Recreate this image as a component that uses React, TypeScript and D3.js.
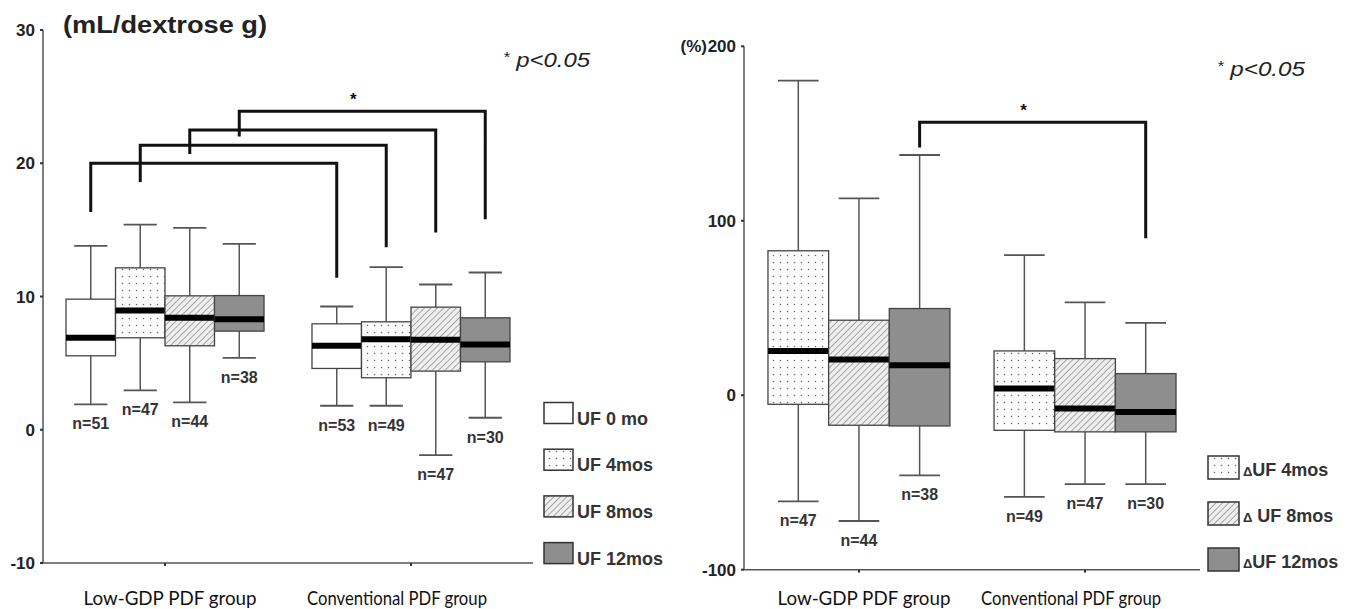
import React, { useEffect } from 'react';
import * as d3 from 'd3';

// ---------- data ----------
const groups = ['Low-GDP PDF group', 'Conventional PDF group'];
const leftSeries = ['UF 0 mo', 'UF 4mos', 'UF 8mos', 'UF 12mos'];
const rightSeries = ['ΔUF 4mos', 'Δ UF 8mos', 'ΔUF 12mos'];

// each box: [whiskerLow, q1, median, q3, whiskerHigh]
const leftLowGdp = [
  [1.9, 5.55, 6.9, 9.8, 13.8],
  [2.95, 6.9, 8.95, 12.15, 15.4],
  [2.05, 6.3, 8.4, 10.05, 15.15],
  [5.4, 7.4, 8.3, 10.07, 13.95],
];
const leftConventional = [
  [1.8, 4.6, 6.3, 7.95, 9.25],
  [1.8, 3.9, 6.8, 8.1, 12.2],
  [-1.9, 4.4, 6.75, 9.2, 10.9],
  [0.9, 5.1, 6.4, 8.4, 11.8],
];
const leftN = [
  [51, 47, 44, 38],
  [53, 49, 47, 30],
];

const rightLowGdp = [
  [-60.8, -5.2, 25.4, 82.8, 180.3],
  [-72.1, -17.2, 20.5, 43, 112.8],
  [-45.9, -17.6, 17.2, 49.7, 137.7],
];
const rightConventional = [
  [-58.3, -20.1, 3.8, 25.4, 80.3],
  [-51, -21, -7.6, 21, 53.2],
  [-51, -21, -9.6, 12.4, 41.5],
];
const rightN = [
  [47, 44, 38],
  [49, 47, 30],
];

const leftTicks = [-10, 0, 10, 20, 30];
const rightTicks = [-100, 0, 100, 200];

// significance brackets: series index, bracket top, end of left leg, end of right leg
const leftBracketSeries = [0, 1, 2, 3];
const leftBracketTop = [20, 21.35, 22.5, 23.9];
const leftBracketLeftEnd = [16.35, 18.6, 20.7, 22.0];
const leftBracketRightEnd = [11.4, 13.7, 14.8, 15.8];

const rightBracketSeries = [2];
const rightBracketTop = [156.4];
const rightBracketLeftEnd = [142];
const rightBracketRightEnd = [90];

const leftFills = ['white', 'dots', 'hatch', 'gray'];
const rightFills = ['dots', 'hatch', 'gray'];

// ---------- styling ----------
const NUM_FONT = "'Liberation Sans', Arial, Helvetica, sans-serif";
const CAT_FONT = "Lato, 'Open Sans', sans-serif";
const GRAY = '#8e8e8e';
const CAT_WIDTHS = [173, 180];
const CAT_OFFSETS = [5, -14];

function fillFor(kind: string) {
  if (kind === 'dots') return 'url(#dots)';
  if (kind === 'hatch') return 'url(#hatch)';
  if (kind === 'gray') return GRAY;
  return '#ffffff';
}

type PanelProps = {
  data: number[][][];
  ns: number[][];
  series: string[];
  fills: string[];
  ticks: number[];
  domain: [number, number];
  xRange: [number, number];
  yRange: [number, number];
  bSeries: number[];
  bTop: number[];
  bLeft: number[];
  bRight: number[];
  legendX: number;
  legendY: number;
  legendW: number;
  legendH: number;
  legendStep: number;
  legendTextDy: number;
  delta: boolean;
};

function Panel(p: PanelProps) {
  const x = d3.scaleBand<string>().domain(groups).range(p.xRange).paddingInner(0.195).paddingOuter(p.delta ? 0.106 : 0.0935);
  const inner = d3.scaleBand<string>().domain(p.series).range([0, x.bandwidth()]).padding(0);
  const y = d3.scaleLinear().domain(p.domain).range(p.yRange);
  const bw = inner.bandwidth();
  const capW = bw * 0.67;
  const axisX = p.xRange[0];
  const axisY = p.yRange[0];

  const cx = (g: number, s: number) => (x(groups[g]) as number) + (inner(p.series[s]) as number) + bw / 2;

  return (
    <g>
      {/* axes */}
      <line x1={axisX} x2={axisX} y1={y(p.domain[1])} y2={axisY} stroke="#555" strokeWidth={1.5} />
      <line x1={axisX} x2={p.xRange[1]} y1={axisY} y2={axisY} stroke="#555" strokeWidth={1.5} />
      {p.ticks.map((t) => (
        <g key={t}>
          <line x1={axisX - 3} x2={axisX} y1={y(t)} y2={y(t)} stroke="#333" strokeWidth={2} />
          <text x={axisX - 8} y={y(t) + 6} textAnchor="end" fontFamily={NUM_FONT} fontWeight="bold" fontSize={17} fill="#222">
            {t}
          </text>
        </g>
      ))}
      {groups.map((g, gi) => {
        const c = (x(g) as number) + x.bandwidth() / 2;
        return (
          <g key={g}>
            <line x1={c} x2={c} y1={axisY} y2={axisY + 3} stroke="#333" strokeWidth={2} />
            <text
              x={c + CAT_OFFSETS[gi]}
              y={605}
              textAnchor="middle"
              fontFamily={CAT_FONT}
              fontSize={19}
              fill="#111"
              textLength={CAT_WIDTHS[gi]}
              lengthAdjust="spacingAndGlyphs"
            >
              {g}
            </text>
          </g>
        );
      })}

      {/* boxes */}
      {p.data.map((grp, gi) =>
        grp.map((b, si) => {
          const [lo, q1, med, q3, hi] = b;
          const c = cx(gi, si);
          const left = c - bw / 2;
          return (
            <g key={`${gi}-${si}`}>
              <line x1={c} x2={c} y1={y(hi)} y2={y(q3)} stroke="#555" strokeWidth={1.5} />
              <line x1={c} x2={c} y1={y(q1)} y2={y(lo)} stroke="#555" strokeWidth={1.5} />
              <line x1={c - capW / 2} x2={c + capW / 2} y1={y(hi)} y2={y(hi)} stroke="#555" strokeWidth={1.8} />
              <line x1={c - capW / 2} x2={c + capW / 2} y1={y(lo)} y2={y(lo)} stroke="#555" strokeWidth={1.8} />
              <rect x={left} y={y(q3)} width={bw} height={y(q1) - y(q3)} fill={fillFor(p.fills[si])} stroke="#444" strokeWidth={1.3} />
              <line x1={left} x2={left + bw} y1={y(med)} y2={y(med)} stroke="#000" strokeWidth={6} />
              <text x={c} y={y(lo) + 25} textAnchor="middle" fontFamily={NUM_FONT} fontWeight="bold" fontSize={16} fill="#333">
                {`n=${p.ns[gi][si]}`}
              </text>
            </g>
          );
        })
      )}

      {/* brackets */}
      {p.bSeries.map((s, i) => {
        const x1 = cx(0, s);
        const x2 = cx(1, s);
        const yt = y(p.bTop[i]);
        return (
          <path
            key={i}
            d={`M${x1},${y(p.bLeft[i])}V${yt}H${x2}V${y(p.bRight[i])}`}
            fill="none"
            stroke="#111"
            strokeWidth={3}
          />
        );
      })}
      {(() => {
        const last = p.bSeries.length - 1;
        const mx = (cx(0, p.bSeries[last]) + cx(1, p.bSeries[last])) / 2 - 9;
        return (
          <text x={mx} y={y(p.bTop[last]) - 6} textAnchor="middle" fontFamily={NUM_FONT} fontWeight="bold" fontSize={17} fill="#111">
            *
          </text>
        );
      })()}

      {/* legend */}
      {p.series.map((s, i) => {
        const ty = p.legendY + i * p.legendStep;
        const hasDelta = s.startsWith('Δ');
        return (
          <g key={s}>
            <rect x={p.legendX} y={ty} width={p.legendW} height={p.legendH} fill={fillFor(p.fills[i])} stroke="#333" strokeWidth={1.5} />
            <text x={p.legendX + p.legendW + 4} y={ty + p.legendH + p.legendTextDy} fontFamily={NUM_FONT} fontWeight="bold" fontSize={18} fill="#333">
              {hasDelta ? (
                <>
                  <tspan fontSize={13}>Δ</tspan>
                  <tspan>{s.slice(1)}</tspan>
                </>
              ) : (
                s
              )}
            </text>
          </g>
        );
      })}
    </g>
  );
}

export default function App() {
  useEffect(() => {
    document.body.style.margin = '0';
  }, []);

  return (
    <svg width={1359} height={609} style={{ display: 'block', position: 'absolute', left: 0, top: 0, background: '#fff' }}>
      <defs>
        <pattern id="dots" width={7} height={7} patternUnits="userSpaceOnUse">
          <rect width={7} height={7} fill="#fdfdfd" />
          <circle cx={3.5} cy={3.5} r={0.75} fill="#666" />
        </pattern>
        <pattern id="hatch" width={4.5} height={4.5} patternUnits="userSpaceOnUse" patternTransform="rotate(45)">
          <rect width={4.5} height={4.5} fill="#eeeeee" />
          <line x1={0} y1={0} x2={0} y2={4.5} stroke="#8a8a8a" strokeWidth={1.4} />
        </pattern>
      </defs>
      <rect width={1359} height={609} fill="#fff" />

      {/* left panel */}
      <Panel
        data={[leftLowGdp, leftConventional]}
        ns={leftN}
        series={leftSeries}
        fills={leftFills}
        ticks={leftTicks}
        domain={[-10, 30]}
        xRange={[43, 533]}
        yRange={[563, 30]}
        bSeries={leftBracketSeries}
        bTop={leftBracketTop}
        bLeft={leftBracketLeftEnd}
        bRight={leftBracketRightEnd}
        legendX={544}
        legendY={402.5}
        legendW={29}
        legendH={21}
        legendStep={46.7}
        legendTextDy={1}
        delta={false}
      />
      <text x={63} y={33} fontFamily={NUM_FONT} fontWeight="bold" fontSize={23} fill="#222" textLength={204} lengthAdjust="spacingAndGlyphs">
        (mL/dextrose g)
      </text>
      <text x={503} y={67} fontFamily={NUM_FONT} fontStyle="italic" fontSize={20} fill="#222" textLength={87} lengthAdjust="spacingAndGlyphs">
        <tspan fontSize={14} dy={-5}>*</tspan>
        <tspan dy={5}> p&lt;0.05</tspan>
      </text>

      {/* right panel */}
      <Panel
        data={[rightLowGdp, rightConventional]}
        ns={rightN}
        series={rightSeries}
        fills={rightFills}
        ticks={rightTicks}
        domain={[-100, 200]}
        xRange={[744, 1200]}
        yRange={[569.7, 46.3]}
        bSeries={rightBracketSeries}
        bTop={rightBracketTop}
        bLeft={rightBracketLeftEnd}
        bRight={rightBracketRightEnd}
        legendX={1208}
        legendY={456}
        legendW={31}
        legendH={23}
        legendStep={46}
        legendTextDy={-3}
        delta={true}
      />
      <text x={707} y={52} textAnchor="end" fontFamily={NUM_FONT} fontWeight="bold" fontSize={17} fill="#222">
        (%)
      </text>
      <text x={1217} y={76} fontFamily={NUM_FONT} fontStyle="italic" fontSize={20} fill="#222" textLength={88} lengthAdjust="spacingAndGlyphs">
        <tspan fontSize={14} dy={-5}>*</tspan>
        <tspan dy={5}> p&lt;0.05</tspan>
      </text>
    </svg>
  );
}
